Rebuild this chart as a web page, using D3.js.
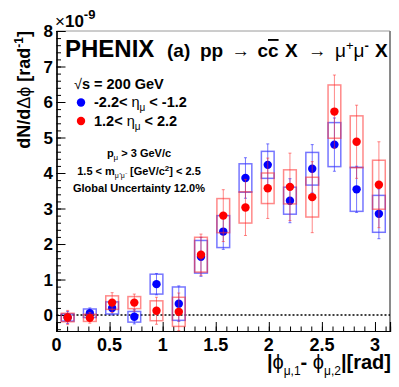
<!DOCTYPE html>
<html>
<head>
<meta charset="utf-8">
<script src="https://cdn.jsdelivr.net/npm/d3@7"></script>
<style>
  body { margin: 0; background: #fff; }
  svg { display: block; }
  text { font-family: "Liberation Sans", Arial, Helvetica, sans-serif; font-weight: bold; fill: #000; }
  .sym { font-weight: normal; }
</style>
</head>
<body>
<svg id="chart" width="399" height="387"></svg>
<script>
// bin centres of |dphi| (rad)
const dphi = [0.105, 0.314, 0.524, 0.733, 0.942, 1.152, 1.361, 1.571, 1.780, 1.990, 2.199, 2.409, 2.618, 2.827, 3.037];

// -2.2 < eta < -1.2 (blue), in units of 1e-9
const south = [-0.07, 0.05, 0.20, -0.05, 0.87, 0.32, 1.64, 2.35, 3.86, 4.23, 3.22, 4.12, 4.80, 3.54, 2.85];
const southStat = [0.17, 0.15, 0.20, 0.20, 0.30, 0.50, 0.55, 0.50, 0.57, 0.59, 0.62, 0.68, 0.75, 0.65, 0.70];
const southSys = [0.10, 0.12, 0.17, 0.15, 0.28, 0.47, 0.46, 0.45, 0.40, 0.38, 0.38, 0.46, 0.62, 0.62, 0.52];

// 1.2 < eta < 2.2 (red)
const north = [-0.07, -0.08, 0.35, 0.35, 0.12, 0.09, 1.70, 2.80, 3.03, 3.57, 3.61, 3.32, 5.73, 4.88, 3.67];
const northStat = [0.20, 0.15, 0.28, 0.24, 0.38, 0.53, 0.58, 0.73, 0.79, 0.85, 0.95, 1.00, 1.03, 1.03, 1.21];
const northSys = [0.12, 0.10, 0.19, 0.17, 0.28, 0.41, 0.49, 0.48, 0.44, 0.43, 0.48, 0.56, 0.75, 0.73, 0.69];

const xTicks = [0, 0.5, 1, 1.5, 2, 2.5, 3];
const xTickLabels = ["0", "0.5", "1", "1.5", "2", "2.5", "3"];
const yTicks = [0, 1, 2, 3, 4, 5, 6, 7, 8];

const boxHalf = 0.06; // rad

const svg = d3.select("#chart");
const padL = 56.5, padR = 390, padT = 31, padB = 331;

const x = d3.scaleLinear().domain([0, Math.PI]).range([padL, padR]);
const y = d3.scaleLinear().domain([-0.45, 8]).range([padB, padT]);

// frame
svg.append("line").attr("x1", padL).attr("x2", padR).attr("y1", padT).attr("y2", padT)
  .attr("stroke", "#9a9a9a").attr("stroke-width", 1);
svg.append("line").attr("x1", padR).attr("x2", padR).attr("y1", padT).attr("y2", padB)
  .attr("stroke", "#8a8a8a").attr("stroke-width", 2);

// zero line
svg.append("line").attr("x1", padL).attr("x2", padR).attr("y1", y(0)).attr("y2", y(0))
  .attr("stroke", "#000").attr("stroke-width", 1.3).attr("stroke-dasharray", "2,2");

// axes
const xAxis = d3.axisTop(x).tickValues(xTicks).tickSize(9).tickFormat("");
const xMinor = d3.axisTop(x).tickValues(d3.range(0, 32).map(d => d / 10)).tickSize(4.5).tickFormat("");
svg.append("g").attr("transform", `translate(0,${padB})`).call(xMinor);
svg.append("g").attr("transform", `translate(0,${padB})`).call(xAxis);

const yAxis = d3.axisRight(y).tickValues(yTicks).tickSize(9).tickFormat("");
const yMinor = d3.axisRight(y).tickValues(d3.range(-2, 41).map(d => d / 5)).tickSize(4.5).tickFormat("");
svg.append("g").attr("transform", `translate(${padL},0)`).call(yMinor);
svg.append("g").attr("transform", `translate(${padL},0)`).call(yAxis);

svg.selectAll(".domain").attr("stroke", "#000").attr("stroke-width", 1.2);
svg.selectAll(".tick line").attr("stroke", "#000");

// tick labels
svg.selectAll(".xlab").data(xTicks).enter().append("text")
  .attr("x", d => x(d)).attr("y", 351).attr("text-anchor", "middle")
  .style("font-size", "18px").text((d, i) => xTickLabels[i]);
svg.selectAll(".ylab").data(yTicks).enter().append("text")
  .attr("x", 53).attr("y", d => y(d) + 6).attr("text-anchor", "end")
  .style("font-size", "17px").text(d => d);

const exp = svg.append("text").attr("x", 55).attr("y", 27).style("font-size", "17px");
exp.append("tspan").attr("class", "sym").text("×");
exp.append("tspan").text("10");
exp.append("tspan").attr("dy", -8).style("font-size", "13px").text("-9");

// data series
function drawSeries(vals, stat, sys, color, boxColor) {
  const g = svg.append("g");
  g.selectAll("rect").data(vals).enter().append("rect")
    .attr("x", (d, i) => x(dphi[i] - boxHalf))
    .attr("width", (d, i) => x(dphi[i] + boxHalf) - x(dphi[i] - boxHalf))
    .attr("y", (d, i) => y(d + sys[i]))
    .attr("height", (d, i) => y(d - sys[i]) - y(d + sys[i]))
    .attr("fill", "none").attr("stroke", boxColor).attr("stroke-width", 1.5);
  g.selectAll(".err").data(vals).enter().append("line")
    .attr("x1", (d, i) => x(dphi[i])).attr("x2", (d, i) => x(dphi[i]))
    .attr("y1", (d, i) => y(d + stat[i])).attr("y2", (d, i) => y(d - stat[i]))
    .attr("stroke", boxColor).attr("stroke-width", 1);
  g.selectAll(".cap").data(vals.flatMap((d, i) => [[i, d + stat[i]], [i, d - stat[i]]])).enter().append("line")
    .attr("x1", d => x(dphi[d[0]]) - 1.5).attr("x2", d => x(dphi[d[0]]) + 1.5)
    .attr("y1", d => y(d[1])).attr("y2", d => y(d[1]))
    .attr("stroke", boxColor).attr("stroke-width", 1);
  g.selectAll("circle").data(vals).enter().append("circle")
    .attr("cx", (d, i) => x(dphi[i])).attr("cy", d => y(d))
    .attr("r", 4.2).attr("fill", color);
}
drawSeries(south, southStat, southSys, "#0000ff", "rgba(60,60,255,0.7)");
drawSeries(north, northStat, northSys, "#ff0000", "rgba(255,40,40,0.55)");

// title
svg.append("text").attr("x", 65).attr("y", 57).style("font-size", "24px").text("PHENIX");
function titlePiece(px, str, cls, len) {
  const el = svg.append("text").attr("x", px).attr("y", 57).style("font-size", "19px").text(str);
  if (cls) el.attr("class", cls);
  if (len) el.attr("textLength", len).attr("lengthAdjust", "spacingAndGlyphs");
  return el;
}
titlePiece(167, "(a)");
titlePiece(200, "pp");
titlePiece(231.5, "→", "sym", 18.5);
titlePiece(257.5, "c");
titlePiece(268, "c").style("text-decoration", "overline");
titlePiece(285, "X");
titlePiece(308, "→", "sym", 18.5);
const mm = titlePiece(335, "μ", "sym");
mm.append("tspan").attr("dy", -7).style("font-size", "13px").text("+");
mm.append("tspan").attr("dy", 7).text("μ");
mm.append("tspan").attr("dy", -7).style("font-size", "13px").style("font-weight", "bold").text("-");
titlePiece(375, "X");

// legend
const l0 = svg.append("text").attr("x", 74).attr("y", 89).style("font-size", "14.5px");
l0.append("tspan").attr("class", "sym").text("√");
l0.append("tspan").text("s = 200 GeV");

const legendRows = [
  { color: "#0000ff", lo: "-2.2", hi: "-1.2", cy: 102.5 },
  { color: "#ff0000", lo: "1.2", hi: "2.2", cy: 121 }
];
legendRows.forEach(r => {
  svg.append("circle").attr("cx", 81).attr("cy", r.cy).attr("r", 4.2).attr("fill", r.color);
  const tx = svg.append("text").attr("x", 94).attr("y", r.cy + 4.5).style("font-size", "14.5px");
  tx.append("tspan").text(r.lo + "< ");
  tx.append("tspan").attr("class", "sym").text("η");
  tx.append("tspan").attr("class", "sym").attr("dy", 4).style("font-size", "10px").text("μ");
  tx.append("tspan").attr("dy", -4).text(" < " + r.hi);
});

// cuts
const c1 = svg.append("text").attr("x", 139).attr("y", 157).attr("text-anchor", "middle").style("font-size", "11px");
c1.append("tspan").text("p");
c1.append("tspan").attr("class", "sym").attr("dy", 3).style("font-size", "8px").text("μ");
c1.append("tspan").attr("dy", -3).text(" > 3 GeV/c");

const c2 = svg.append("text").attr("x", 139).attr("y", 175).attr("text-anchor", "middle").style("font-size", "11px");
c2.append("tspan").text("1.5 < m");
c2.append("tspan").attr("class", "sym").attr("dy", 3).style("font-size", "7px").text("μ⁺μ⁻");
c2.append("tspan").attr("dy", -3).text(" [GeV/c");
c2.append("tspan").attr("dy", -4).style("font-size", "8px").text("2");
c2.append("tspan").attr("dy", 4).text("] < 2.5");

svg.append("text").attr("x", 139).attr("y", 192).attr("text-anchor", "middle").style("font-size", "11px")
  .text("Global Uncertainty 12.0%");

// axis titles
const xt = svg.append("text").attr("x", 391).attr("y", 369).attr("text-anchor", "end").style("font-size", "20px");
xt.append("tspan").text("|");
xt.append("tspan").attr("class", "sym").text("ϕ");
xt.append("tspan").attr("class", "sym").attr("dy", 6).style("font-size", "12px").text("μ,1");
xt.append("tspan").attr("dy", -6).text("- ");
xt.append("tspan").attr("class", "sym").text("ϕ");
xt.append("tspan").attr("class", "sym").attr("dy", 6).style("font-size", "12px").text("μ,2");
xt.append("tspan").attr("dy", -6).text("|[rad]");

const yt = svg.append("text").attr("transform", "translate(30,31) rotate(-90)")
  .attr("text-anchor", "end").style("font-size", "18px");
yt.append("tspan").text("dN/d");
yt.append("tspan").attr("class", "sym").text("Δϕ");
yt.append("tspan").text(" [rad");
yt.append("tspan").attr("dy", -7).style("font-size", "12px").text("-1");
yt.append("tspan").attr("dy", 7).text("]");
</script>
</body>
</html>
